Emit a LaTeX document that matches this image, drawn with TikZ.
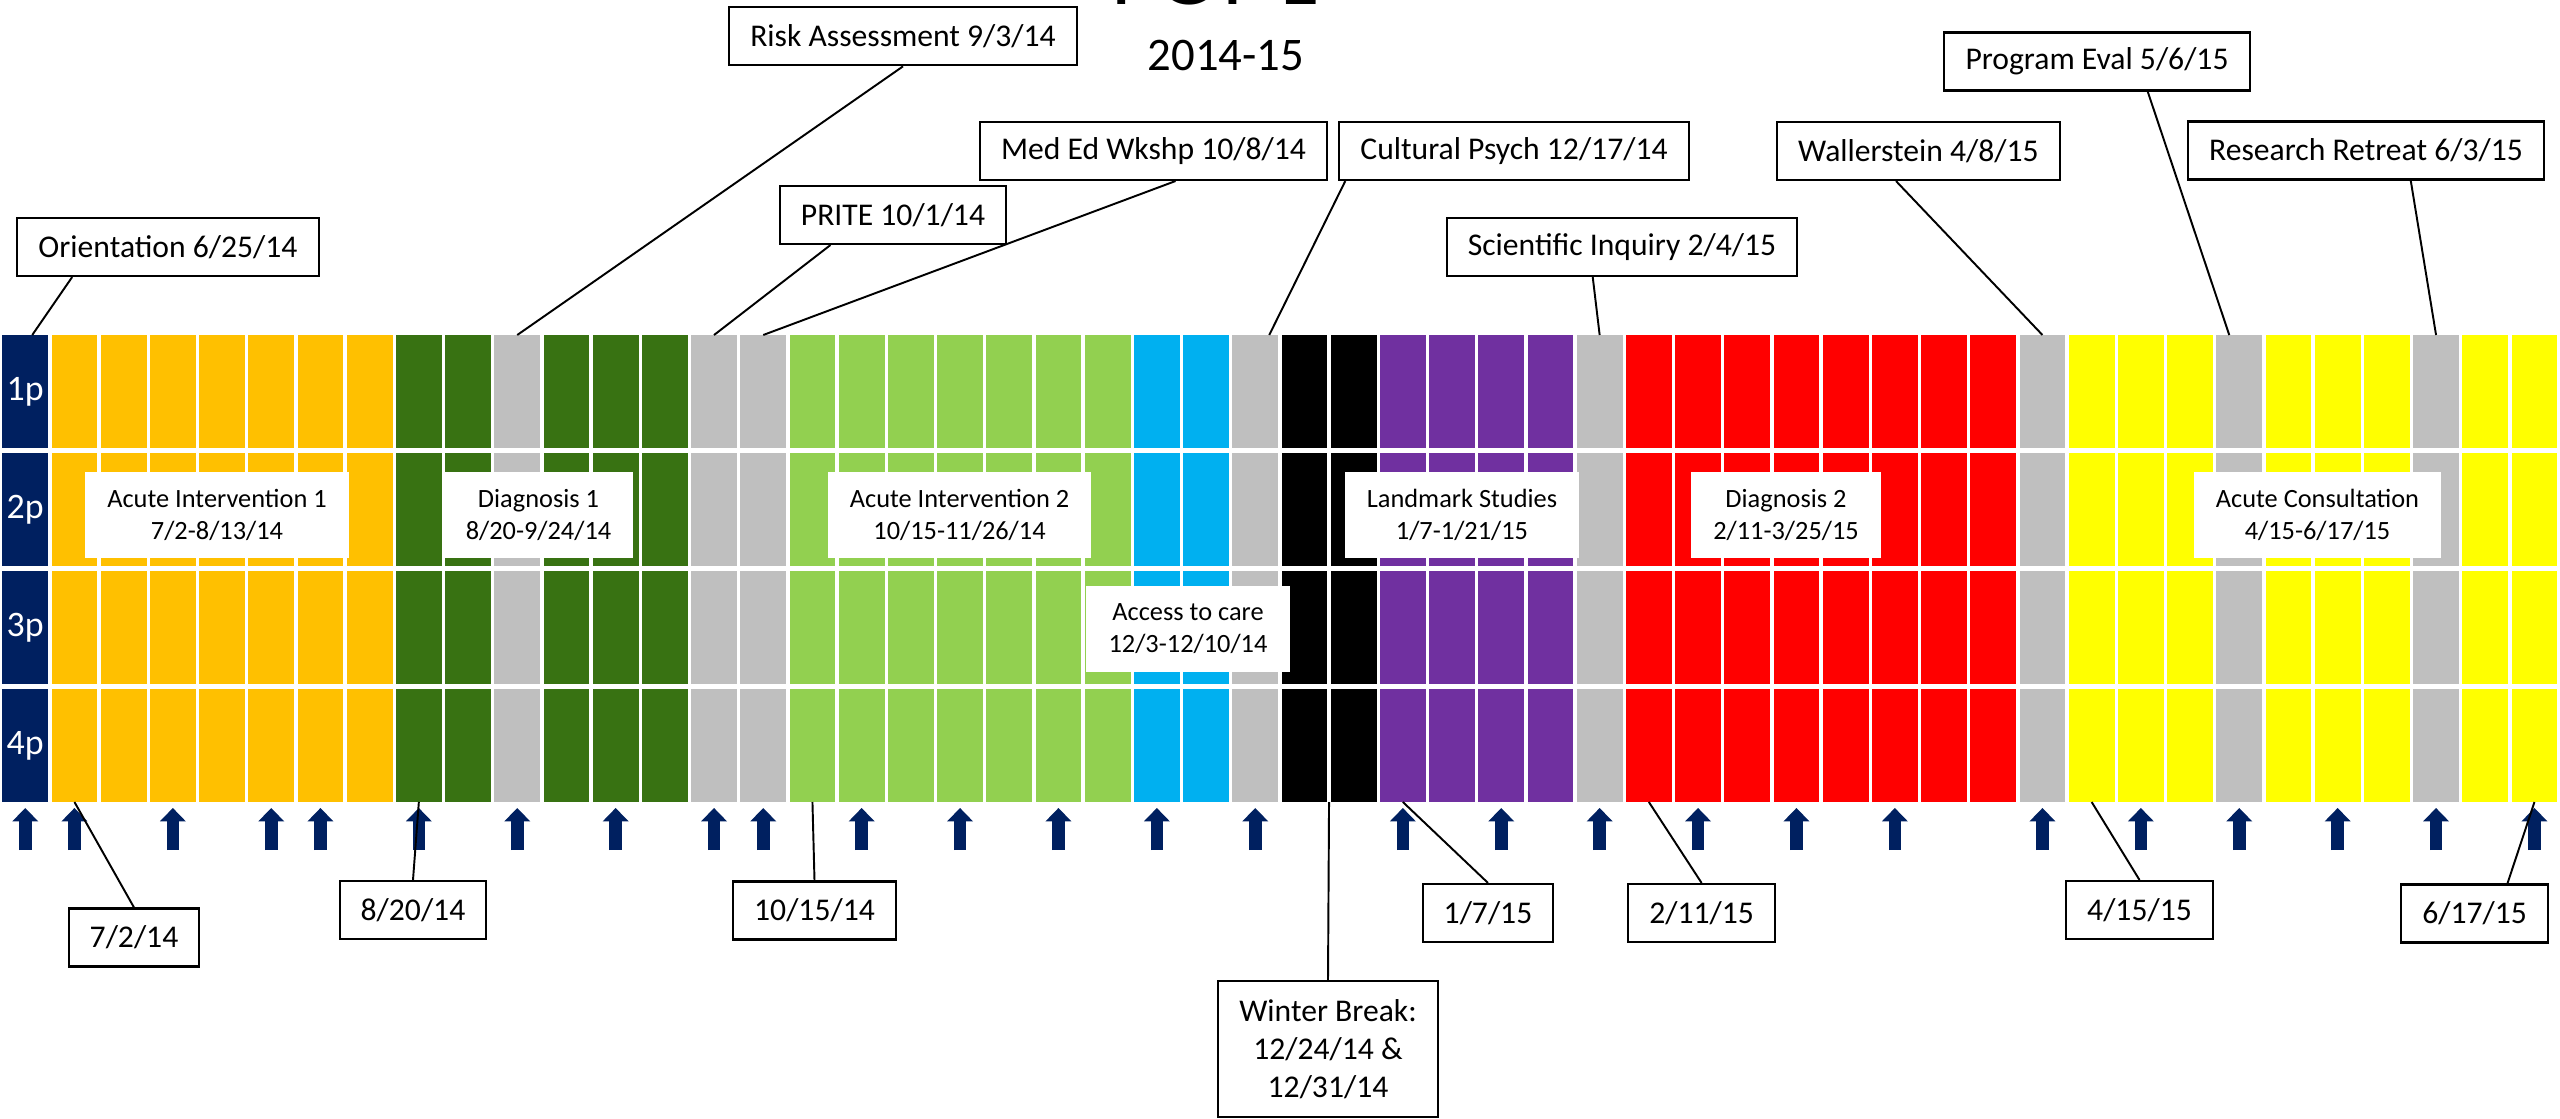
\documentclass[tikz,border=0pt]{standalone}
\usepackage{fontspec}
\setmainfont{Carlito}
\usepackage{tikz}
\usetikzlibrary{calc,arrows.meta}

\definecolor{navy}{RGB}{0,32,96}
\definecolor{orng}{RGB}{255,192,0}
\definecolor{dkgrn}{RGB}{56,114,18}
\definecolor{gry}{RGB}{191,191,191}
\definecolor{ltgrn}{RGB}{146,208,80}
\definecolor{blu}{RGB}{0,176,240}
\definecolor{blk}{RGB}{0,0,0}
\definecolor{prp}{RGB}{112,48,160}
\definecolor{rd}{RGB}{255,0,0}
\definecolor{ylw}{RGB}{255,255,0}

\begin{document}
\begin{tikzpicture}[x=0.1mm,y=-0.1mm,
    callout/.style={draw,line width=0.6pt,fill=white,inner xsep=6pt,minimum height=5.8mm,
      align=center,font=\fontsize{9pt}{10.9pt}\selectfont},
    block/.style={fill=white,inner xsep=6.3pt,minimum height=8.6mm,align=center,
      font=\fontsize{7.5pt}{8.9pt}\selectfont},
    lead/.style={line width=0.55pt},
    week/.style={navy,line width=1.27mm,-{Triangle[length=1.34mm,width=2.6mm,line width=0pt]}}]
  \useasboundingbox (0,0) rectangle (2560,1119);

  %% Title
  \node[anchor=base,font=\fontsize{25pt}{30pt}\selectfont] (title) at (1216,4) {PGY-1};
  \node[anchor=base,font=\fontsize{13.3pt}{16pt}\selectfont] (year) at (1226,70) {2014-15};

  %% Column with the half-day labels
  \foreach \r [count=\n] in {0,...,3}
  {
    \fill[navy] (2.4,335+118*\r) rectangle ++(45.7,113);
    \node[text=white,font=\fontsize{10.2pt}{12pt}\selectfont] (P\n) at (25.25,391.5+118*\r) {\n p};
  }
  \coordinate (T0) at (25.25,335);
  \coordinate (B0) at (25.25,802);

  %% One column of boxes per week
  \foreach \c [count=\i] in {orng,orng,orng,orng,orng,orng,orng,dkgrn,dkgrn,gry,dkgrn,dkgrn,dkgrn,
      gry,gry,ltgrn,ltgrn,ltgrn,ltgrn,ltgrn,ltgrn,ltgrn,blu,blu,gry,blk,blk,prp,prp,prp,prp,gry,
      rd,rd,rd,rd,rd,rd,rd,rd,gry,ylw,ylw,ylw,gry,ylw,ylw,ylw,gry,ylw,ylw}
  {
    \foreach \r in {0,...,3}
      \fill[\c] (2.4+49.2*\i,335+118*\r) rectangle ++(45.7,113);
    \coordinate (T\i) at (25.25+49.2*\i,335);
    \coordinate (B\i) at (25.25+49.2*\i,802);
  }

  %% Weekly arrows under the grid
  \foreach \a in {0,1,3,5,6,8,10,12,14,15,17,19,21,23,25,28,30,32,34,36,38,41,43,45,47,49,51}
    \draw[week] ($(B\a)+(0,48)$) -- ($(B\a)+(0,6)$);

  %% Rotation blocks
  \node[block] (ai1) at (217,515) {Acute Intervention 1\\7/2-8/13/14};
  \node[block] (dx1) at (538.5,515) {Diagnosis 1\\8/20-9/24/14};
  \node[block] (ai2) at (959.5,515) {Acute Intervention 2\\10/15-11/26/14};
  \node[block] (acc) at (1188,628.5) {Access to care\\12/3-12/10/14};
  \node[block] (lms) at (1462,515) {Landmark Studies\\1/7-1/21/15};
  \node[block] (dx2) at (1786,515) {Diagnosis 2\\2/11-3/25/15};
  \node[block] (acs) at (2317.5,515) {Acute Consultation\\4/15-6/17/15};

  %% Events above the grid
  \node[callout] (ori) at (168,247) {Orientation 6/25/14};
  \draw[lead] ($(ori.south west)!0.184!(ori.south east)$) -- ($(T0)+(7,0)$);
  \node[callout] (risk) at (903,36.3) {Risk Assessment 9/3/14};
  \draw[lead] (risk.south) -- (T10);
  \node[callout] (prite) at (893,215) {PRITE 10/1/14};
  \draw[lead] ($(prite.south west)!0.226!(prite.south east)$) -- (T14);
  \node[callout] (meded) at (1153.5,151) {Med Ed Wkshp 10/8/14};
  \draw[lead] ($(meded.south west)!0.563!(meded.south east)$) -- (T15);
  \node[callout] (cult) at (1514,151) {Cultural Psych 12/17/14};
  \draw[lead] ($(cult.south west)!0.02!(cult.south east)$) -- ($(T25)+(14,0)$);
  \node[callout] (sci) at (1622,247) {Scientific Inquiry 2/4/15};
  \draw[lead] ($(sci.south west)!0.417!(sci.south east)$) -- (T32);
  \node[callout] (wall) at (1918.5,151) {Wallerstein 4/8/15};
  \draw[lead] ($(wall.south west)!0.421!(wall.south east)$) -- (T41);
  \node[callout] (prog) at (2097,61.5) {Program Eval 5/6/15};
  \draw[lead] ($(prog.south west)!0.665!(prog.south east)$) -- ($(T45)+(-10,0)$);
  \node[callout] (rr) at (2366,150.5) {Research Retreat 6/3/15};
  \draw[lead] ($(rr.south west)!0.625!(rr.south east)$) -- (T49);

  %% Start dates below the grid
  \node[callout] (s1) at (134,937.5) {7/2/14};
  \draw[lead] (s1.north) -- (B1);
  \node[callout] (s2) at (413,910) {8/20/14};
  \draw[lead] (s2.north) -- (B8);
  \node[callout] (s3) at (814.5,910.5) {10/15/14};
  \draw[lead] (s3.north) -- (B16);
  \node[callout,minimum height=13.6mm] (wb) at (1328,1049) {Winter Break:\\12/24/14 \&\\12/31/14};
  \draw[lead] (wb.north) -- ($(B26)!0.5!(B27)$);
  \node[callout] (s5) at (1488,913) {1/7/15};
  \draw[lead] (s5.north) -- (B28);
  \node[callout] (s6) at (1701.6,913) {2/11/15};
  \draw[lead] (s6.north) -- (B33);
  \node[callout] (s7) at (2139.5,910) {4/15/15};
  \draw[lead] (s7.north) -- (B42);
  \node[callout] (s8) at (2474.7,913.5) {6/17/15};
  \draw[lead] ($(s8.north west)!0.72!(s8.north east)$) -- (B51);
\end{tikzpicture}
\end{document}
